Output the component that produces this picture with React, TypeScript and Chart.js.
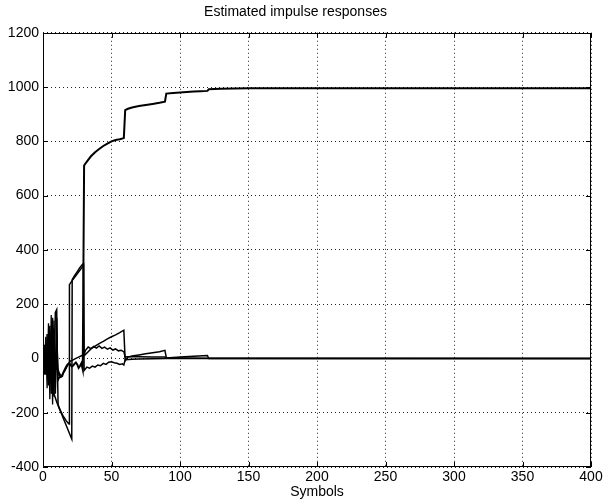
import React, { useEffect, useRef } from "react";
import { Chart, registerables } from "chart.js";

Chart.register(...registerables);

const titleText = "Estimated impulse responses";
const xAxisLabel = "Symbols";

const xMin = 0;
const xMax = 400;
const xStep = 50;
const yMin = -400;
const yMax = 1200;
const yStep = 200;

// Tap converging to 1000
const aX = [0, 1, 2, 3, 4, 5, 6, 7, 8, 9, 10, 11, 12, 13, 14, 15, 16, 17, 18, 19, 20, 21, 22, 23, 24, 25, 26, 27, 28, 29, 30, 32, 35, 38, 41, 44, 47, 50, 53, 56, 59, 60, 62, 65, 70, 75, 80, 85, 89, 90, 95, 100, 105, 110, 115, 120, 121, 125, 130, 140, 150, 160, 200, 400];
const aY = [0, -15, 10, -30, 20, -35, 5, -45, -20, -38, -30, -50, -62, -68, -65, -50, -40, -30, -22, -18, -22, -30, -26, -20, -15, -22, -35, -28, -18, -40, 711, 725, 745, 760, 772, 783, 792, 800, 805, 808, 812, 915, 920, 925, 930, 934, 938, 942, 946, 976, 978, 980, 982, 984, 985, 986, 992, 993, 994, 995, 996, 996, 996, 996];

// Tap dipping to -297 then jumping up
const bX = [0, 1, 2, 3, 4, 5, 6, 7, 8, 9, 10, 12, 14, 16, 18, 20, 21, 21.3, 23, 25, 27, 29, 29.5, 30, 32, 34, 36, 38, 40, 42, 44, 46, 48, 50, 52, 54, 56, 58, 59, 60, 65, 70, 80, 90, 100, 120, 150, 400];
const bY = [0, 30, -40, 50, -60, 40, -80, -100, -130, -145, -160, -185, -210, -235, -260, -285, -297, 290, 305, 320, 335, 348, 350, -45, -32, -36, -28, -32, -24, -27, -18, -22, -14, -12, -16, -18, -22, -20, -24, -5, -3, -2, -1, 0, 0, 0, 0, 0];

// Tap oscillating, dipping to -242, jumping up, then upper curve 30-60
const cX = [0, 1, 2, 3, 4, 5, 6, 7, 8, 9, 10, 11, 12, 13, 14, 15, 16, 17, 18, 19, 19.3, 22, 25, 28, 29.6, 30, 31, 33, 35, 38, 41, 44, 47, 50, 53, 56, 59, 60, 62, 65, 70, 75, 80, 85, 89, 90, 100, 120, 400];
const cY = [0, -30, 40, -60, 70, -90, 100, -120, 110, -130, 150, -170, -185, -195, -205, -215, -222, -230, -236, -242, 272, 292, 312, 332, 342, 10, 15, 25, 35, 45, 55, 63, 72, 80, 87, 95, 104, -8, 5, 9, 13, 17, 21, 25, 30, 3, 2, 1, 0];

// Tap with the +180 spike, middle wavy curve 30-60, small bump 90-120
const dX = [0, 1, 2, 3, 4, 5, 6, 7, 8, 9, 10, 10.5, 11, 12, 14, 16, 18, 20, 22, 24, 26, 28, 30, 31, 33, 35, 37, 39, 41, 43, 45, 47, 49, 51, 53, 55, 57, 59, 60, 62, 70, 80, 89, 90, 100, 110, 120, 121, 130, 400];
const dY = [0, 50, -60, 90, -100, 120, -130, 150, -140, 170, 180, -20, -80, -70, -60, -45, -25, -10, -5, 0, 5, 10, 15, 30, 42, 36, 44, 38, 46, 37, 42, 34, 39, 31, 35, 28, 30, 25, 5, 6, 6, 5, 5, 2, 5, 8, 11, 0, 0, 0];

// Short early oscillating tap
const eX = [0, 1, 2, 3, 4, 5, 6, 7, 8, 9, 10, 11, 12, 13];
const eY = [0, -60, 80, -110, 130, -150, 160, -170, 140, -120, 100, -40, -55, -60];

const seriesX = [aX, bX, cX, dX, eX];
const seriesY = [aY, bY, cY, dY, eY];
const seriesWidth = [2, 1.5, 1.5, 1.5, 1.3];

const FONT = "'Liberation Sans', Arial, Helvetica, sans-serif";

const framePlugin = {
  id: "matlabFrame",
  afterDraw(chart: any) {
    const { ctx, chartArea: a, scales } = chart;
    ctx.save();
    ctx.setLineDash([]);
    ctx.strokeStyle = "#000";
    ctx.lineWidth = 1;
    ctx.strokeRect(Math.round(a.left) + 0.5, Math.round(a.top) + 0.5, Math.round(a.right - a.left) - 1, Math.round(a.bottom - a.top) - 1);
    const tl = 5;
    ctx.beginPath();
    scales.x.ticks.forEach((t: any) => {
      const px = Math.round(scales.x.getPixelForValue(t.value)) + 0.5;
      ctx.moveTo(px, a.bottom);
      ctx.lineTo(px, a.bottom - tl);
      ctx.moveTo(px, a.top);
      ctx.lineTo(px, a.top + tl);
    });
    scales.y.ticks.forEach((t: any) => {
      const py = Math.round(scales.y.getPixelForValue(t.value)) + 0.5;
      ctx.moveTo(a.left, py);
      ctx.lineTo(a.left + tl, py);
      ctx.moveTo(a.right, py);
      ctx.lineTo(a.right - tl, py);
    });
    ctx.stroke();
    ctx.restore();
  },
};

export default function App() {
  const ref = useRef<HTMLCanvasElement | null>(null);

  useEffect(() => {
    if (!ref.current) return;
    const datasets = seriesX.map((xs, i) => ({
      data: xs.map((x, j) => ({ x, y: seriesY[i][j] })),
      borderColor: "#000",
      borderWidth: seriesWidth[i],
      pointRadius: 0,
      tension: 0,
      fill: false,
    }));
    const chart = new Chart(ref.current, {
      type: "line",
      data: { datasets },
      options: {
        animation: false,
        responsive: false,
        layout: { padding: { left: 0, right: 17, top: 0, bottom: 0 } },
        plugins: {
          legend: { display: false },
          tooltip: { enabled: false },
          title: {
            display: true,
            text: titleText,
            color: "#000",
            font: { family: FONT, size: 14, weight: "normal" },
            padding: { top: 4, bottom: 12 },
          },
        },
        scales: {
          x: {
            type: "linear",
            min: xMin,
            max: xMax,
            ticks: {
              stepSize: xStep,
              color: "#000",
              font: { family: FONT, size: 14 },
              padding: 2,
              maxRotation: 0,
              callback: (v: any) => String(v),
            },
            grid: { color: "#222", lineWidth: 1, drawTicks: false },
            border: { display: false, dash: [1, 3] },
            title: {
              display: true,
              text: xAxisLabel,
              color: "#000",
              font: { family: FONT, size: 14 },
              padding: { top: 0, bottom: 2 },
            },
            afterFit: (s: any) => {
              s.height = 36;
            },
          },
          y: {
            type: "linear",
            min: yMin,
            max: yMax,
            ticks: {
              stepSize: yStep,
              color: "#000",
              font: { family: FONT, size: 14 },
              padding: 4,
              callback: (v: any) => String(v),
            },
            grid: { color: "#222", lineWidth: 1, drawTicks: false },
            border: { display: false, dash: [1, 3] },
            afterFit: (s: any) => {
              s.width = 43;
            },
          },
        },
      },
      plugins: [framePlugin],
    });
    return () => chart.destroy();
  }, []);

  return (
    <div style={{ position: "fixed", left: 0, top: 0, width: 608, height: 503, background: "#fff" }}>
      <canvas ref={ref} width={608} height={503} style={{ display: "block" }} />
    </div>
  );
}
